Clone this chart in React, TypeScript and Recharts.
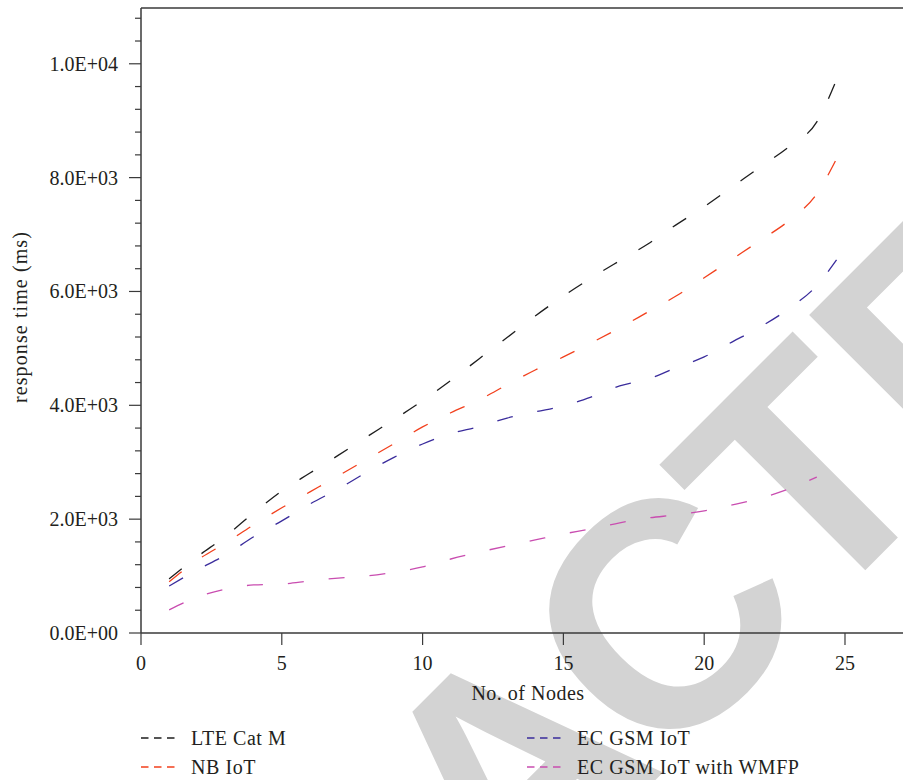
import { Line, LineChart, ReferenceLine, XAxis, YAxis, Label } from 'recharts';

// number of nodes (x) — last sample sits a bit before 25
const nodes = [1, 2, 3, 4, 5, 6, 7, 8, 9, 10, 11, 12, 13, 14, 15, 16, 17, 18, 19, 20, 21, 22, 23, 24, 24.7];

// response time in ms
const lteCatM = [950, 1340, 1700, 2110, 2495, 2810, 3120, 3440, 3755, 4080, 4435, 4815, 5190, 5570, 5920, 6240, 6540, 6835, 7170, 7490, 7840, 8190, 8540, 8980, 9720];
const nbIot = [900, 1280, 1580, 1900, 2200, 2480, 2760, 3045, 3330, 3620, 3870, 4095, 4360, 4620, 4850, 5100, 5360, 5640, 5920, 6240, 6570, 6900, 7240, 7715, 8330];
const ecGsmIot = [826, 1110, 1370, 1690, 1970, 2265, 2530, 2820, 3090, 3320, 3505, 3625, 3775, 3885, 3990, 4150, 4340, 4460, 4660, 4850, 5115, 5380, 5695, 6105, 6555];
const ecGsmWmfp = [405, 630, 770, 845, 860, 915, 965, 1000, 1070, 1160, 1300, 1420, 1530, 1635, 1740, 1830, 1935, 2020, 2075, 2145, 2250, 2370, 2530, 2740, null];

const xTicks = [0, 5, 10, 15, 20, 25];
const yTicks = [0, 400, 800, 1200, 1600, 2000, 2400, 2800, 3200, 3600, 4000, 4400, 4800, 5200, 5600, 6000, 6400, 6800, 7200, 7600, 8000, 8400, 8800, 9200, 9600, 10000, 10400, 10800];

const series = [
  { key: 'lte', name: 'LTE Cat M', color: '#1e1e1e', values: lteCatM },
  { key: 'nb', name: 'NB IoT', color: '#f2401d', values: nbIot },
  { key: 'ec', name: 'EC GSM IoT', color: '#3a2c9c', values: ecGsmIot },
  { key: 'wmfp', name: 'EC GSM IoT with WMFP', color: '#c94db0', values: ecGsmWmfp },
];

const data = nodes.map((n, i) => {
  const row: Record<string, number | null> = { n };
  series.forEach((s) => (row[s.key] = s.values[i]));
  return row;
});

// watermark letters and where each one starts along the slanted baseline
const stamp = 'RETRACTED';
const stampX = [-1172, -941, -727, -531, -300, -85, 134, 328, 541];

const FONT = '"Liberation Serif", "Times New Roman", serif';
const INK = '#231f20';
const AXIS = '#3a3a3a';

function sci(v: number) {
  if (v === 0) return '0.0E+00';
  const e = Math.floor(Math.log10(v));
  const m = v / Math.pow(10, e);
  return `${m.toFixed(1)}E+${String(e).padStart(2, '0')}`;
}

function YTick(props: any) {
  const { x, y, payload } = props;
  const major = payload.value % 2000 === 0;
  return (
    <g>
      <line x1={x - (major ? 12 : 6)} x2={x} y1={y} y2={y} stroke={AXIS} strokeWidth={1.2} />
      {major && (
        <text x={x - 23} y={y + 7} textAnchor="end" fontSize={20} fontFamily={FONT} fill={INK}>
          {sci(payload.value)}
        </text>
      )}
    </g>
  );
}

function XTick(props: any) {
  const { x, y, payload } = props;
  return (
    <g>
      <line x1={x} x2={x} y1={y} y2={y + 12} stroke={AXIS} strokeWidth={1.2} />
      <text x={x} y={y + 37} textAnchor="middle" fontSize={20} fontFamily={FONT} fill={INK}>
        {payload.value}
      </text>
    </g>
  );
}

const legendPos = [
  { x: 141, y: 738 },
  { x: 141, y: 767 },
  { x: 527, y: 738 },
  { x: 527, y: 767 },
];

export default function App() {
  return (
    <div style={{ position: 'absolute', left: 0, top: 0, width: 903, height: 780, background: '#fff', overflow: 'hidden' }}>
      {/* retraction watermark, sits under everything */}
      <svg width={903} height={780} style={{ position: 'absolute', left: 0, top: 0 }}>
        <g transform="rotate(-45)">
          <text
            x={stampX.join(' ')}
            y={1015}
            fontSize={320}
            fontWeight="bold"
            fontFamily='"Liberation Sans", Arial, sans-serif'
            fill="#d3d3d3"
          >
            {stamp}
          </text>
        </g>
      </svg>

      <div style={{ position: 'absolute', left: 0, top: 0 }}>
        <LineChart width={903} height={780} data={data} margin={{ top: 8, right: 0, bottom: 0, left: 0 }}>
          <XAxis
            dataKey="n"
            type="number"
            domain={[0, 27.06]}
            ticks={xTicks}
            allowDataOverflow
            height={147}
            tickSize={0}
            tickMargin={0}
            tickLine={false}
            tick={<XTick />}
            stroke={AXIS}
            strokeWidth={1.5}
          >
            <Label
              content={(p: any) => (
                <text x={528} y={p.viewBox.y + 67} textAnchor="middle" fontSize={20} letterSpacing={0.5} fontFamily={FONT} fill={INK}>
                  No. of Nodes
                </text>
              )}
            />
          </XAxis>
          <YAxis
            type="number"
            domain={[0, 10980]}
            ticks={yTicks}
            interval={0}
            width={141}
            tickSize={0}
            tickMargin={0}
            tickLine={false}
            tick={<YTick />}
            stroke={AXIS}
            strokeWidth={1.5}
          >
            <Label
              content={() => (
                <text x={27} y={317} transform="rotate(-90 27 317)" textAnchor="middle" fontSize={20} letterSpacing={1.1} fontFamily={FONT} fill={INK}>
                  response time (ms)
                </text>
              )}
            />
          </YAxis>
          <ReferenceLine y={10980} stroke={AXIS} strokeWidth={1.5} />
          {series.map((s) => (
            <Line
              key={s.key}
              dataKey={s.key}
              name={s.name}
              type="monotone"
              stroke={s.color}
              strokeWidth={1.3}
              strokeDasharray="16 25"
              dot={false}
              activeDot={false}
              isAnimationActive={false}
            />
          ))}
        </LineChart>
      </div>

      {/* two-column legend under the axis */}
      <svg width={903} height={780} style={{ position: 'absolute', left: 0, top: 0, pointerEvents: 'none' }}>
        {series.map((s, i) => {
          const p = legendPos[i];
          return (
            <g key={s.key}>
              <line x1={p.x} x2={p.x + 35} y1={p.y} y2={p.y} stroke={s.color} strokeWidth={1.3} strokeDasharray="7.5 5.5" />
              <text x={p.x + 50} y={p.y + 7} fontSize={20} letterSpacing={0.55} fontFamily={FONT} fill={INK}>
                {s.name}
              </text>
            </g>
          );
        })}
      </svg>
    </div>
  );
}
